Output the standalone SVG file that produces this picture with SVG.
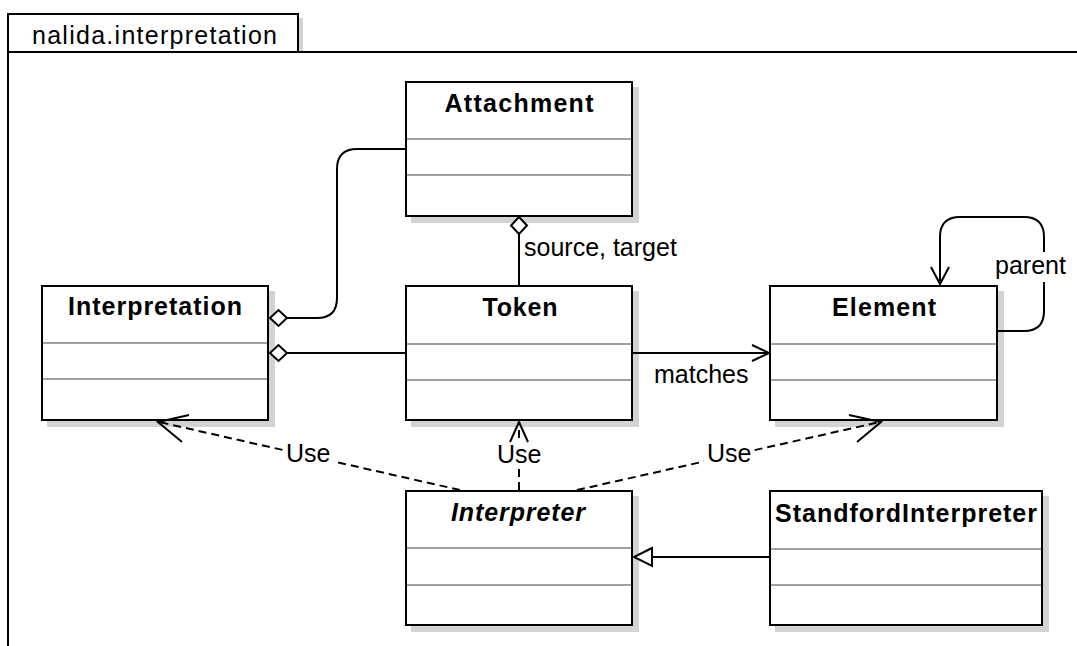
<svg xmlns="http://www.w3.org/2000/svg" width="1077" height="646" viewBox="0 0 1077 646">
<style>
text{font-family:"Liberation Sans",Arial,Helvetica,sans-serif;font-size:25px;fill:#000}
.title{font-weight:bold;text-anchor:middle}
.ital{font-style:italic}
.box{fill:#fff;stroke:#000;stroke-width:2}
.shadow{fill:#d3d3d3}
.sep{stroke:#a0a0a0;stroke-width:2}
.line{fill:none;stroke:#000;stroke-width:2}
.dash{fill:none;stroke:#000;stroke-width:2;stroke-dasharray:8,5}
.bg{fill:#fff}
.frame{fill:none;stroke:#000;stroke-width:2}
</style>
<rect width="1077" height="646" fill="#fff"/>
<g id="package">
<rect class="shadow" x="298" y="18" width="5" height="34"/>
<rect x="8" y="14" width="290" height="38" fill="#fff" stroke="#000" stroke-width="2"/>
<path class="frame" d="M8,14 V646 M8,52 H1077"/>
<text x="32" y="44" textLength="245" lengthAdjust="spacing">nalida.interpretation</text>
</g>
<g id="Attachment">
<rect class="shadow" x="411" y="87" width="228" height="136"/>
<rect class="box" x="406" y="82" width="226" height="134"/>
<line class="sep" x1="407" y1="139" x2="631" y2="139"/>
<line class="sep" x1="407" y1="175" x2="631" y2="175"/>
<text class="title" x="519" y="112" textLength="149" lengthAdjust="spacing">Attachment</text>
</g>
<g id="Token">
<rect class="shadow" x="411" y="291" width="228" height="136"/>
<rect class="box" x="406" y="286" width="226" height="134"/>
<line class="sep" x1="407" y1="344" x2="631" y2="344"/>
<line class="sep" x1="407" y1="380" x2="631" y2="380"/>
<text class="title" x="520" y="316" textLength="75" lengthAdjust="spacing">Token</text>
</g>
<g id="Interpretation">
<rect class="shadow" x="47" y="291" width="228" height="136"/>
<rect class="box" x="42" y="286" width="226" height="134"/>
<line class="sep" x1="43" y1="343" x2="267" y2="343"/>
<line class="sep" x1="43" y1="379" x2="267" y2="379"/>
<text class="title" x="155" y="315" textLength="174" lengthAdjust="spacing">Interpretation</text>
</g>
<g id="Element">
<rect class="shadow" x="775" y="291" width="229" height="136"/>
<rect class="box" x="770" y="286" width="227" height="134"/>
<line class="sep" x1="771" y1="344" x2="996" y2="344"/>
<line class="sep" x1="771" y1="380" x2="996" y2="380"/>
<text class="title" x="884" y="316" textLength="104" lengthAdjust="spacing">Element</text>
</g>
<g id="Interpreter">
<rect class="shadow" x="411" y="496" width="228" height="136"/>
<rect class="box" x="406" y="491" width="226" height="134"/>
<line class="sep" x1="407" y1="548" x2="631" y2="548"/>
<line class="sep" x1="407" y1="585" x2="631" y2="585"/>
<text class="title ital" x="518" y="521" textLength="134" lengthAdjust="spacing">Interpreter</text>
</g>
<g id="StandfordInterpreter">
<rect class="shadow" x="775" y="496" width="274" height="136"/>
<rect class="box" x="770" y="491" width="272" height="134"/>
<line class="sep" x1="771" y1="549" x2="1041" y2="549"/>
<line class="sep" x1="771" y1="585" x2="1041" y2="585"/>
<text class="title" x="906" y="522" textLength="262" lengthAdjust="spacing">StandfordInterpreter</text>
</g>
<g id="connectors">
<!-- Attachment aggregation to Interpretation -->
<path class="line" d="M405,149 H357 Q337,149 337,169 V298 Q337,318 317,318 H287"/>
<path d="M270,318 L278.5,310 L287,318 L278.5,326 Z" fill="#fff" stroke="#000" stroke-width="2"/>
<!-- Token aggregation to Interpretation -->
<path class="line" d="M405,353 H287"/>
<path d="M270,353 L278.5,345 L287,353 L278.5,361 Z" fill="#fff" stroke="#000" stroke-width="2"/>
<!-- Token to Attachment (source, target) -->
<path class="line" d="M519,285 V234"/>
<path d="M519,217 L527,225.5 L519,234 L511,225.5 Z" fill="#fff" stroke="#000" stroke-width="2"/>
<text x="524" y="256">source, target</text>
<!-- matches -->
<path class="line" d="M633,353 H768"/>
<path class="line" d="M752,345 L769,353 L752,361"/>
<text x="654" y="383">matches</text>
<!-- parent self loop -->
<path class="line" d="M998,331 H1024 Q1044,331 1044,311 V237 Q1044,217 1024,217 H960 Q940,217 940,237 V283"/>
<path class="line" d="M931,267 L940,284 L949,267"/>
<rect class="bg" x="993" y="252" width="72" height="30"/>
<text x="995" y="274">parent</text>
<!-- Use dependencies -->
<path class="dash" d="M460,490 L159,422"/>
<path class="line" d="M189,415 L158,422 L182,442"/>
<rect class="bg" x="283" y="443" width="51" height="25"/>
<text x="286" y="462">Use</text>
<path class="dash" d="M519,490 V423"/>
<path class="line" d="M510,442 L519,422 L528,442"/>
<rect class="bg" x="495" y="443" width="49" height="26"/>
<text x="497" y="463">Use</text>
<path class="dash" d="M577,490 L880,422"/>
<path class="line" d="M849,415 L881,422 L857,442"/>
<rect class="bg" x="704" y="443" width="50" height="25"/>
<text x="707" y="462">Use</text>
<!-- generalization -->
<path class="line" d="M769,557 H652"/>
<path d="M652,548 L634,557 L652,566 Z" fill="#fff" stroke="#000" stroke-width="2"/>
</g>
</svg>
